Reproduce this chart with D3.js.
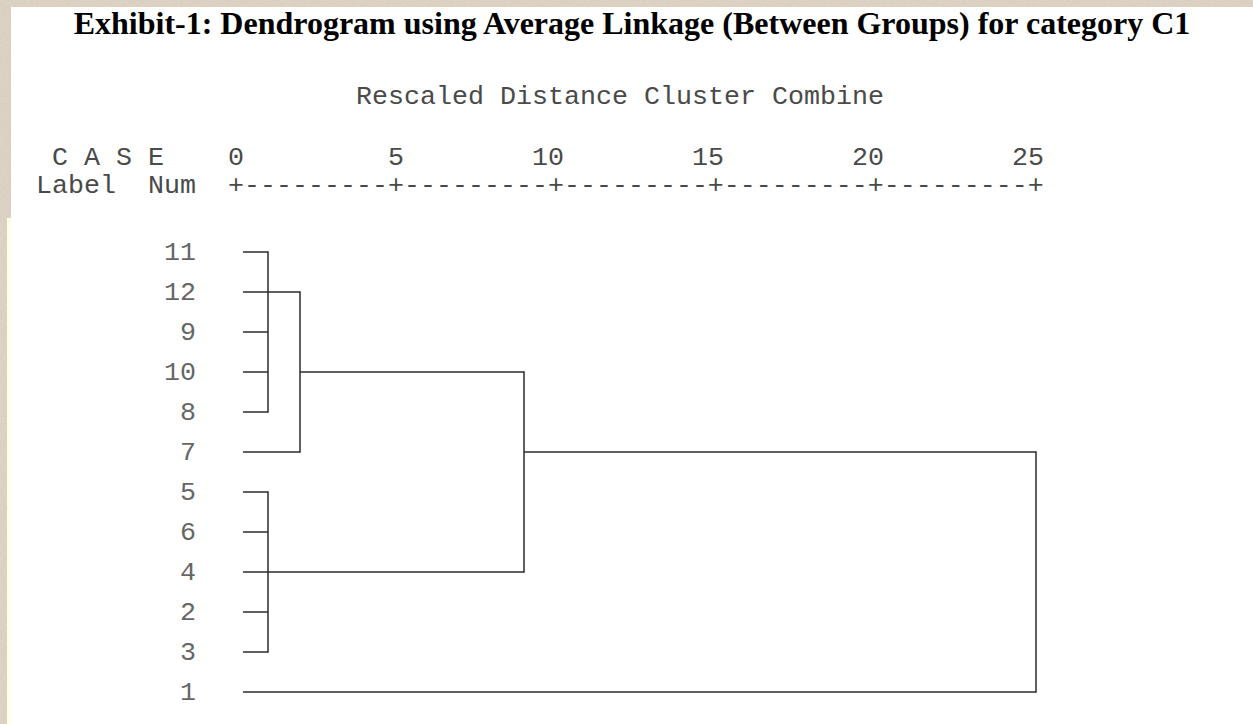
<!DOCTYPE html>
<html>
<head>
<meta charset="utf-8">
<script src="https://cdn.jsdelivr.net/npm/d3@7/dist/d3.min.js"></script>
<style>
  html, body { margin: 0; padding: 0; background: #dcd3c5; }
  svg { display: block; }
  text { white-space: pre; }
</style>
</head>
<body>
<svg id="chart" width="1253" height="724"></svg>
<script>
// ---- data ----
const titleText = "Exhibit-1: Dendrogram using Average Linkage (Between Groups) for category C1";
const subtitleText = "Rescaled Distance Cluster Combine";
const headerCase = "C A S E";
const headerLabel = "Label";
const headerNum = "Num";
const leafLabels = ["11", "12", "9", "10", "8", "7", "5", "6", "4", "2", "3", "1"];
const clusterNames = ["A", "B", "C", "D", "E"];
const clusterMembers = [["11", "12", "9", "10", "8"], ["5", "6", "4", "2", "3"], ["A", "7"], ["C", "B"], ["D", "1"]];
const clusterHeights = [1, 1, 2, 9, 25];
const clusterExitRow = ["12", "4", "10", "7", "7"];
const tickValues = [0, 5, 10, 15, 20, 25];
const tickLabels = ["0", "5", "10", "15", "20", "25"];

// ---- layout ----
const W = 1253, H = 724;
const mono = "'Liberation Mono', 'Courier New', monospace";
const serif = "'Liberation Serif', 'Times New Roman', serif";
const monoSize = 26.67;
const charW = monoSize * 0.6;
const svg = d3.select("#chart");

// background texture
const defs = svg.append("defs");
const f = defs.append("filter").attr("id", "noise").attr("x", 0).attr("y", 0).attr("width", "100%").attr("height", "100%");
f.append("feTurbulence").attr("type", "fractalNoise").attr("baseFrequency", "0.3 0.8").attr("numOctaves", 3).attr("seed", 4).attr("result", "t");
f.append("feColorMatrix").attr("type", "matrix")
  .attr("values", "0 0 0 0 0.62  0 0 0 0 0.55  0 0 0 0 0.44  0 0 0 0.9 -0.25");
svg.append("rect").attr("width", W).attr("height", H).attr("fill", "#ddd4c6");
svg.append("rect").attr("width", W).attr("height", H).attr("filter", "url(#noise)").attr("opacity", 0.7);

// white page areas
svg.append("rect").attr("x", 11).attr("y", 7).attr("width", W - 11).attr("height", H - 7).attr("fill", "#ffffff");
svg.append("rect").attr("x", 7).attr("y", 218).attr("width", 4).attr("height", H - 218).attr("fill", "#fffde6");

// scales
const x = d3.scaleLinear().domain([0, 25]).range([236, 1036]);
const y = d3.scalePoint().domain(leafLabels).range([252, 692]);

// title
svg.append("text")
  .attr("x", 632).attr("y", 34)
  .attr("text-anchor", "middle")
  .attr("font-family", serif).attr("font-weight", "bold").attr("font-size", 32)
  .attr("fill", "#000")
  .text(titleText);

const monoText = (sel) => sel.attr("font-family", mono).attr("font-size", monoSize).attr("fill", "#4a4a4a");

// subtitle
svg.append("text").call(monoText)
  .attr("x", 36 + 20 * charW).attr("y", 104)
  .text(subtitleText);

// header
svg.append("text").call(monoText).attr("x", 36 + charW).attr("y", 165).text(headerCase);
svg.append("text").call(monoText).attr("x", 36).attr("y", 193).text(headerLabel);
svg.append("text").call(monoText).attr("x", 36 + 7 * charW).attr("y", 193).text(headerNum);

// tick labels
svg.append("g").selectAll("text").data(tickValues).join("text").call(monoText)
  .attr("x", d => x(d) + charW / 2)
  .attr("y", 165)
  .attr("text-anchor", "end")
  .text((d, i) => tickLabels[i]);

// axis line of "+" and "-"
const dashCount = Math.round((x(tickValues[1]) - x(tickValues[0])) / charW) - 1;
const axisStr = tickValues.map((d, i) => i === 0 ? "+" : "-".repeat(dashCount) + "+").join("");
svg.append("text").call(monoText)
  .attr("x", x(0) - charW / 2).attr("y", 193)
  .text(axisStr);

// leaf labels
svg.append("g").selectAll("text").data(leafLabels).join("text").call(monoText)
  .attr("fill", "#666")
  .attr("x", 196)
  .attr("y", d => y(d) + 7.5)
  .attr("text-anchor", "end")
  .text(d => d);

// ---- dendrogram ----
const nodes = {};
leafLabels.forEach(l => nodes[l] = { name: l, leaf: true, exitY: y(l), startX: x(0) + 7 });
clusterNames.forEach((c, i) => {
  nodes[c] = { name: c, leaf: false, height: clusterHeights[i], exitY: y(clusterExitRow[i]),
               startX: x(clusterHeights[i]), children: clusterMembers[i] };
  clusterMembers[i].forEach(m => nodes[m].parent = c);
});

const hSegs = [], vSegs = [];
Object.values(nodes).forEach(n => {
  if (n.parent) {
    hSegs.push({ x1: n.startX, x2: x(nodes[n.parent].height), y: n.exitY });
  }
  if (!n.leaf) {
    const ys = n.children.map(c => nodes[c].exitY);
    vSegs.push({ x: x(n.height), y1: d3.min(ys), y2: d3.max(ys) });
  }
});

const g = svg.append("g").attr("stroke", "#2b2b2b").attr("stroke-width", 1.5).attr("fill", "none");
g.selectAll("line.h").data(hSegs).join("line").attr("class", "h")
  .attr("x1", d => d.x1).attr("x2", d => d.x2).attr("y1", d => d.y).attr("y2", d => d.y);
g.selectAll("line.v").data(vSegs).join("line").attr("class", "v")
  .attr("x1", d => d.x).attr("x2", d => d.x).attr("y1", d => d.y1 - 0.75).attr("y2", d => d.y2 + 0.75);
</script>
</body>
</html>
